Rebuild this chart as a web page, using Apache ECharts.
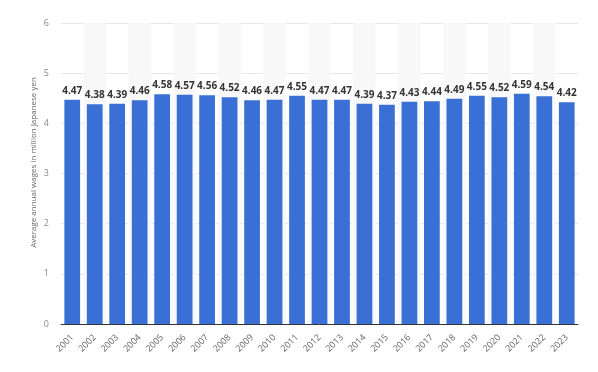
<!DOCTYPE html>
<html><head><meta charset="utf-8">
<script src="https://cdn.jsdelivr.net/npm/echarts@6/dist/echarts.min.js"></script>
<style>html,body{margin:0;padding:0;background:#fff}#c{width:598px;height:372px}</style>
</head><body><div id="c"></div>
<script>
const years = ['2001','2002','2003','2004','2005','2006','2007','2008','2009','2010','2011','2012','2013','2014','2015','2016','2017','2018','2019','2020','2021','2022','2023'];
const wages = [4.47,4.38,4.39,4.46,4.58,4.57,4.56,4.52,4.46,4.47,4.55,4.47,4.47,4.39,4.37,4.43,4.44,4.49,4.55,4.52,4.59,4.54,4.42];
const yTicks = [0,1,2,3,4,5,6];
const yTitle = 'Average annual wages in million Japanese yen';

const chart = echarts.init(document.getElementById('c'));
chart.setOption({
  animation: false,
  grid: {left: 61, right: 20, top: 23, bottom: 48},
  xAxis: {
    type: 'category', data: years,
    axisTick: {show: false},
    axisLine: {lineStyle: {color: '#333', width: 1}},
    axisLabel: {rotate: 45, color: '#666', fontSize: 9, fontFamily: 'Open Sans', margin: 12},
    splitArea: {show: true, areaStyle: {color: ['rgba(255,255,255,0)', '#f8f8f8']}}
  },
  yAxis: {
    type: 'value', min: yTicks[0], max: yTicks[yTicks.length-1], interval: 1,
    name: yTitle, nameLocation: 'middle', nameGap: 23, nameMoveOverlap: false,
    nameTextStyle: {color: '#666', fontSize: 8, fontFamily: 'Open Sans', padding: [0, 0, 0, 22]},
    axisLine: {show: false}, axisTick: {show: false},
    axisLabel: {color: '#888', fontSize: 9, fontFamily: 'Open Sans', margin: 12},
    splitLine: {lineStyle: {color: '#e8e8e8', width: 1}}
  },
  series: [{
    type: 'bar', data: wages, barWidth: '70%',
    itemStyle: {color: '#3a6fd6'},
    label: {show: true, position: 'top', color: '#333', fontSize: 10, fontWeight: 'bold', fontFamily: 'Open Sans', distance: 4,
      formatter: p => p.value.toFixed(2)}
  }]
});
</script></body></html>
